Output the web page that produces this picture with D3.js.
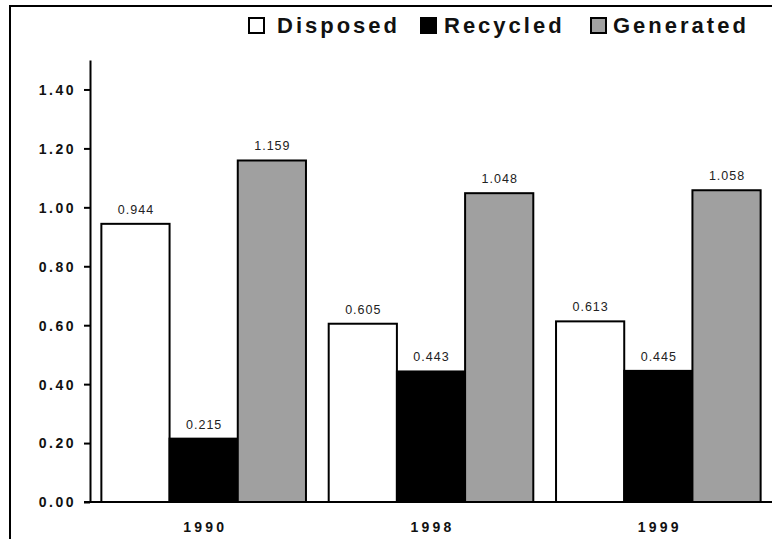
<!DOCTYPE html>
<html>
<head>
<meta charset="utf-8">
<script src="https://cdn.jsdelivr.net/npm/d3@7"></script>
<style>
  body { margin: 0; background: #fff; }
  text { font-family: "Liberation Sans", Arial, sans-serif; }
</style>
</head>
<body>
<svg id="chart" width="772" height="539"></svg>
<script>
let years = ["1990", "1998", "1999"];
let seriesNames = ["Disposed", "Recycled", "Generated"];
let disposed = [0.944, 0.605, 0.613];
let recycled = [0.215, 0.443, 0.445];
let generated = [1.159, 1.048, 1.058];
let yTicks = [0, 0.2, 0.4, 0.6, 0.8, 1.0, 1.2, 1.4];
let fills = ["#ffffff", "#000000", "#a0a0a0"];

let svg = d3.select("#chart");

// outer frame (top + left only)
svg.append("line").attr("x1", 9).attr("x2", 772).attr("y1", 6).attr("y2", 6)
  .attr("stroke", "#000").attr("stroke-width", 2);
svg.append("line").attr("x1", 10).attr("x2", 10).attr("y1", 5).attr("y2", 539)
  .attr("stroke", "#000").attr("stroke-width", 2);

let left = 90, bottom = 502;
let x = d3.scaleBand().domain(years).range([left, 772]).paddingInner(0.1).paddingOuter(0.05);
let xs = d3.scaleBand().domain(seriesNames).range([0, x.bandwidth()]);
let y = d3.scaleLinear().domain([0, 1.5]).range([bottom, 60]);

let table = years.map((yr, i) => ({
  year: yr,
  vals: [disposed[i], recycled[i], generated[i]]
}));

let groups = svg.selectAll(".grp").data(table).enter()
  .append("g").attr("class", "grp")
  .attr("transform", d => "translate(" + x(d.year) + ",0)");

groups.selectAll("rect").data(d => d.vals).enter().append("rect")
  .attr("x", (d, i) => xs(seriesNames[i]))
  .attr("y", d => y(d))
  .attr("width", xs.bandwidth())
  .attr("height", d => bottom - y(d))
  .attr("fill", (d, i) => fills[i])
  .attr("stroke", "#000").attr("stroke-width", 2);

groups.selectAll(".val").data(d => d.vals).enter().append("text")
  .attr("class", "val")
  .attr("x", (d, i) => xs(seriesNames[i]) + xs.bandwidth() / 2 + 0.5)
  .attr("y", d => y(d) - 10)
  .attr("text-anchor", "middle")
  .attr("font-size", 12.5)
  .attr("letter-spacing", 1)
  .attr("fill", "#222")
  .text(d => d3.format(".3f")(d));

// y axis
let yAxis = svg.append("g").attr("transform", "translate(" + left + ",0)")
  .call(d3.axisLeft(y).tickValues(yTicks).tickFormat(d3.format(".2f")).tickSize(6).tickSizeOuter(0));
yAxis.select(".domain").attr("stroke-width", 2);
yAxis.selectAll(".tick line").attr("stroke-width", 2);
yAxis.selectAll(".tick text")
  .attr("font-family", "Liberation Sans, Arial, sans-serif")
  .attr("font-size", 14).attr("font-weight", "bold")
  .attr("letter-spacing", 2.5).attr("fill", "#111").attr("x", -14).attr("dy", "0.35em");

// x axis
let xAxis = svg.append("g").attr("transform", "translate(0," + bottom + ")")
  .call(d3.axisBottom(x).tickSize(0).tickSizeOuter(0));
xAxis.select(".domain").attr("d", "M84,0H772").attr("stroke-width", 2);
xAxis.selectAll(".tick text")
  .attr("font-family", "Liberation Sans, Arial, sans-serif")
  .attr("font-size", 14).attr("font-weight", "bold")
  .attr("letter-spacing", 3.2).attr("fill", "#111")
  .attr("y", 30).attr("dy", 0).attr("dx", 1.5);

// legend
let legendX = [248, 420, 590];
let textGap = [29, 24, 23];
let legend = svg.selectAll(".leg").data(seriesNames).enter()
  .append("g").attr("class", "leg")
  .attr("transform", (d, i) => "translate(" + legendX[i] + ",17)");
legend.append("rect").attr("x", 1).attr("y", 1).attr("width", 15).attr("height", 15)
  .attr("fill", (d, i) => fills[i]).attr("stroke", "#000").attr("stroke-width", 2);
legend.append("text").attr("x", (d, i) => textGap[i]).attr("y", 16)
  .attr("font-size", 22).attr("font-weight", "bold").attr("letter-spacing", 3)
  .attr("fill", "#111")
  .text(d => d);
</script>
</body>
</html>
